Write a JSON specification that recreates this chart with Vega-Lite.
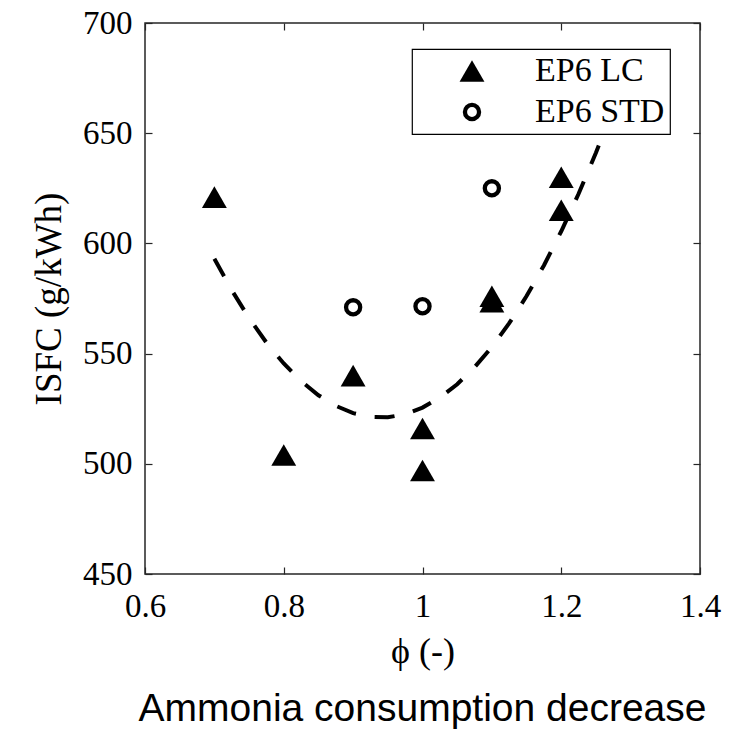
{
  "$schema": "https://vega.github.io/schema/vega-lite/v6.json",
  "width": 555,
  "height": 551,
  "autosize": {"type": "none"},
  "padding": {"left": 145, "top": 23, "right": 35, "bottom": 156},
  "background": "white",
  "config": {
    "view": {"stroke": "#262626", "strokeWidth": 1.5},
    "axis": {
      "domain": false,
      "labelFlush": false,
      "gridColor": "#dcdcdc",
      "gridWidth": 1,
      "tickColor": "#262626",
      "tickSize": -7,
      "tickWidth": 1.2,
      "labelFont": "Liberation Serif",
      "labelFontSize": 33,
      "labelColor": "black",
      "titleFont": "Liberation Serif",
      "titleFontWeight": "normal",
      "titleColor": "black"
    },
    "legend": {
      "orient": "none",
      "legendX": 267,
      "legendY": 26,
      "fillColor": "white",
      "strokeColor": "black",
      "strokeWidth": 1.2,
      "padding": 5,
      "symbolOffset": 38,
      "labelOffset": 46,
      "labelFont": "Liberation Serif",
      "labelFontSize": 34,
      "labelColor": "black",
      "rowPadding": 7
    }
  },
  "title": {
    "text": "Ammonia consumption decrease",
    "orient": "bottom",
    "anchor": "middle",
    "font": "Liberation Sans",
    "fontSize": 39,
    "fontWeight": "normal",
    "color": "black",
    "offset": 21
  },
  "datasets": {
    "pts": [
      {"phi": 0.7, "isfc": 621, "series": "EP6 LC"},
      {"phi": 0.8, "isfc": 504, "series": "EP6 LC"},
      {"phi": 0.9, "isfc": 540, "series": "EP6 LC"},
      {"phi": 1.0, "isfc": 516, "series": "EP6 LC"},
      {"phi": 1.0, "isfc": 497, "series": "EP6 LC"},
      {"phi": 1.1, "isfc": 576, "series": "EP6 LC"},
      {"phi": 1.1, "isfc": 573.5, "series": "EP6 LC"},
      {"phi": 1.2, "isfc": 630, "series": "EP6 LC"},
      {"phi": 1.2, "isfc": 615, "series": "EP6 LC"},
      {"phi": 0.9, "isfc": 571, "series": "EP6 STD"},
      {"phi": 1.0, "isfc": 571.5, "series": "EP6 STD"},
      {"phi": 1.1, "isfc": 625, "series": "EP6 STD"}
    ],
    "fit": [
      {"phi": 0.7, "isfc": 593},
      {"phi": 0.725, "isfc": 578.8},
      {"phi": 0.75, "isfc": 566.1},
      {"phi": 0.775, "isfc": 555},
      {"phi": 0.8, "isfc": 545.5},
      {"phi": 0.825, "isfc": 537.5},
      {"phi": 0.85, "isfc": 531.1},
      {"phi": 0.875, "isfc": 526.3},
      {"phi": 0.9, "isfc": 523},
      {"phi": 0.925, "isfc": 521.3},
      {"phi": 0.95, "isfc": 521.1},
      {"phi": 0.975, "isfc": 522.5},
      {"phi": 1.0, "isfc": 525.5},
      {"phi": 1.025, "isfc": 530},
      {"phi": 1.05, "isfc": 536.1},
      {"phi": 1.075, "isfc": 543.8},
      {"phi": 1.1, "isfc": 553},
      {"phi": 1.125, "isfc": 563.8},
      {"phi": 1.15, "isfc": 576.1},
      {"phi": 1.175, "isfc": 590},
      {"phi": 1.2, "isfc": 605.5},
      {"phi": 1.225, "isfc": 622.5},
      {"phi": 1.25, "isfc": 641.1},
      {"phi": 1.275, "isfc": 661.3},
      {"phi": 1.3, "isfc": 683}
    ]
  },
  "layer": [
    {
      "data": {"name": "fit"},
      "mark": {"type": "line", "stroke": "black", "strokeWidth": 4, "strokeDash": [20, 19], "clip": true},
      "encoding": {
        "x": {"field": "phi", "type": "quantitative", "scale": {"domain": [0.6, 1.4]},
              "axis": {"orient": "top", "values": [0.6, 0.8, 1, 1.2, 1.4], "labels": false, "title": null, "grid": false}},
        "y": {"field": "isfc", "type": "quantitative", "scale": {"domain": [450, 700]},
              "axis": {"orient": "right", "values": [450, 500, 550, 600, 650, 700], "labels": false, "title": null, "grid": false}}
      }
    },
    {
      "data": {"name": "pts"},
      "mark": {"type": "point", "stroke": "black", "opacity": 1},
      "encoding": {
        "x": {"field": "phi", "type": "quantitative", "scale": {"domain": [0.6, 1.4]},
              "axis": {"orient": "bottom", "values": [0.6, 0.8, 1, 1.2, 1.4], "format": "~g", "title": "ϕ (-)", "titleFontSize": 36, "labelPadding": 23, "titlePadding": 11}},
        "y": {"field": "isfc", "type": "quantitative", "scale": {"domain": [450, 700]},
              "axis": {"orient": "left", "values": [450, 500, 550, 600, 650, 700], "title": "ISFC (g/kWh)", "titleFontSize": 37, "labelPadding": 20, "titlePadding": 14}},
        "shape": {"field": "series", "type": "nominal", "scale": {"domain": ["EP6 LC", "EP6 STD"], "range": ["triangle-up", "circle"]}, "legend": {"title": null}},
        "fill": {"field": "series", "type": "nominal", "scale": {"domain": ["EP6 LC", "EP6 STD"], "range": ["black", "white"]}, "legend": {"title": null}},
        "size": {"field": "series", "type": "nominal", "scale": {"domain": ["EP6 LC", "EP6 STD"], "range": [620, 200]}, "legend": {"title": null}},
        "strokeWidth": {"field": "series", "type": "nominal", "scale": {"domain": ["EP6 LC", "EP6 STD"], "range": [0, 4.3]}, "legend": {"title": null}}
      }
    }
  ],
  "resolve": {"axis": {"x": "independent", "y": "independent"}}
}
